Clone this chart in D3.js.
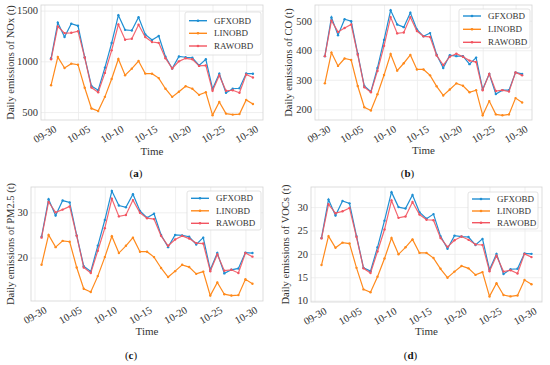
<!DOCTYPE html>
<html>
<head>
<meta charset="utf-8">
<script src="https://cdn.jsdelivr.net/npm/d3@7"></script>
<style>
  body { margin: 0; background: #fff; }
  svg { display: block; font-family: "Liberation Serif", "DejaVu Serif", serif; }
</style>
</head>
<body>
<svg id="chart" width="550" height="365"></svg>
<script>
// data
const days = ['10-01','10-02','10-03','10-04','10-05','10-06','10-07','10-08','10-09','10-10',
  '10-11','10-12','10-13','10-14','10-15','10-16','10-17','10-18','10-19','10-20',
  '10-21','10-22','10-23','10-24','10-25','10-26','10-27','10-28','10-29','10-30','10-31'];
const tickLabels = ['09-30','10-05','10-10','10-15','10-20','10-25','10-30'];
const seriesNames = ['GFXOBD', 'LINOBD', 'RAWOBD'];

const noxGfx = [1030,1380,1240,1370,1350,1040,757,716,938,1180,1454,1310,1304,1435,1265,1210,1250,1045,930,1048,1040,1035,960,1020,728,878,690,730,735,880,878];
const noxLin = [765,1042,934,977,967,740,536,510,650,826,1023,863,928,1003,879,878,835,730,650,700,755,730,670,695,470,600,485,475,480,620,580];
const noxRaw = [1020,1343,1278,1281,1297,1036,742,696,886,1108,1363,1213,1222,1360,1239,1190,1182,1030,930,1000,1030,1020,955,960,710,860,710,715,690,870,840];

const coGfx = [380,511,451,505,498,388,279,260,340,435,535,487,478,527,470,447,458,385,340,383,380,380,353,375,268,320,252,265,265,325,320];
const coLin = [288,392,347,372,367,279,207,196,251,316,387,331,356,384,335,335,315,278,247,267,288,280,258,265,180,228,183,180,183,238,223];
const coRaw = [380,500,462,475,487,385,275,258,330,415,512,457,460,512,465,447,445,382,350,378,388,378,365,360,265,320,262,265,260,325,315];

const pmGfx = [24.6,32.9,29.3,32.6,32.2,24.9,18.1,16.9,22.6,28.3,34.7,31.5,31.1,34.0,30.3,28.8,29.7,25.0,22.3,25.0,24.9,24.6,22.9,24.4,17.3,21.0,16.5,17.3,17.6,21.1,21.0];
const pmLin = [18.4,25.0,22.3,23.7,23.5,17.8,13.1,12.4,15.9,20.1,24.7,21.0,22.6,24.4,21.3,21.3,20.1,17.7,15.7,17.0,18.4,17.9,16.4,16.9,11.6,14.5,11.9,11.6,11.7,15.2,14.2];
const pmRaw = [24.4,32.3,30.0,30.6,31.3,24.8,17.8,16.6,21.5,26.5,33.0,29.1,29.4,32.7,29.9,28.7,28.5,24.8,22.6,24.0,24.8,24.2,23.2,23.1,17.0,20.7,17.1,17.3,16.6,21.0,20.2];

const vocGfx = [23.4,31.6,28.2,31.3,30.8,23.8,17.0,16.3,21.4,27.1,33.2,30.0,29.7,32.6,28.9,27.5,28.5,23.8,21.1,23.9,23.7,23.6,21.9,23.2,16.6,20.0,15.7,16.7,16.8,20.1,20.0];
const vocLin = [17.6,23.8,21.3,22.4,22.2,17.0,12.4,11.8,15.1,19.0,23.4,19.9,21.4,23.1,20.2,20.2,19.1,16.8,14.9,16.2,17.4,16.9,15.5,16.1,10.9,13.7,11.2,10.9,11.1,14.4,13.5];
const vocRaw = [23.3,30.6,28.7,29.1,29.8,23.6,16.9,15.9,20.5,25.2,31.4,27.7,28.0,31.1,28.4,27.3,27.2,23.4,21.5,22.9,23.7,23.0,22.0,21.9,16.3,19.6,16.2,16.5,15.8,20.0,19.3];

const noxTicks = [500, 1000, 1500];
const coTicks = [200, 300, 400, 500];
const pmTicks = [20, 30];
const vocTicks = [10, 15, 20, 25, 30];

const colors = ['#1f8fd3', '#ff8a1c', '#f25561'];
const textColor = '#333';

const parseDay = d3.utcParse('%m-%d');
const dayDates = days.map(parseDay);
const tickDates = tickLabels.map(parseDay);

// panel layout
const panels = [
  { label: 'Daily emissions of NOx (t)', cap: 'a', series: [noxGfx, noxLin, noxRaw], ticks: noxTicks,
    yDomain: [422, 1555], left: 41, right: 263, top: 5, bottom: 120, yLabX: 10, timeY: 151, capY: 173,
    leg: { x: 185, y: 12, w: 76, h: 43, rows: [20.7, 33.3, 46] } },
  { label: 'Daily emissions of CO (t)', cap: 'b', series: [coGfx, coLin, coRaw], ticks: coTicks,
    yDomain: [164, 553], left: 315, right: 532, top: 5, bottom: 120, yLabX: 288, timeY: 150, capY: 173,
    leg: { x: 459, y: 9, w: 71, h: 39, rows: [16, 29.3, 42.3] } },
  { label: 'Daily emissions of PM2.5 (t)', cap: 'c', series: [pmGfx, pmLin, pmRaw], ticks: pmTicks,
    yDomain: [10.4, 35.6], left: 31, right: 263, top: 187, bottom: 301, yLabX: 10, timeY: 331, capY: 355,
    leg: { x: 187, y: 191, w: 74, h: 39, rows: [198.3, 210.8, 223.3] } },
  { label: 'Daily emissions of VOCs (t)', cap: 'd', series: [vocGfx, vocLin, vocRaw], ticks: vocTicks,
    yDomain: [9.7, 34.3], left: 311, right: 542, top: 187, bottom: 302, yLabX: 285, timeY: 331, capY: 355,
    leg: { x: 468, y: 192, w: 70, h: 37, rows: [199, 211, 222.7] } }
];

const svg = d3.select('#chart');
svg.append('rect').attr('width', 550).attr('height', 365).attr('fill', '#fff');

panels.forEach(p => {
  const g = svg.append('g');

  const x = d3.scaleUtc()
    .domain([d3.utcHour.offset(dayDates[0], -36), d3.utcHour.offset(dayDates[dayDates.length - 1], 36)])
    .range([p.left, p.right]);
  const y = d3.scaleLinear()
    .domain(p.yDomain)
    .range([p.bottom, p.top]);

  // grid + y tick labels
  const yAxis = g.append('g')
    .attr('transform', `translate(${p.left},0)`)
    .call(d3.axisLeft(y).tickValues(p.ticks).tickFormat(d3.format('d'))
      .tickSize(-(p.right - p.left)).tickPadding(3));
  yAxis.select('.domain').remove();
  yAxis.selectAll('line').attr('stroke', '#ebebeb').attr('stroke-width', 0.8);
  yAxis.selectAll('text')
    .attr('fill', textColor)
    .style('font-family', '"Liberation Serif", serif')
    .style('font-size', '10.5px');

  const xAxis = g.append('g')
    .attr('transform', `translate(0,${p.bottom})`)
    .call(d3.axisBottom(x).tickValues(tickDates).tickFormat(d3.utcFormat('%m-%d'))
      .tickSize(-(p.bottom - p.top)));
  xAxis.select('.domain').remove();
  xAxis.selectAll('line').attr('stroke', '#ebebeb').attr('stroke-width', 0.8);
  xAxis.selectAll('text')
    .attr('y', 0)
    .attr('dy', '0.35em')
    .attr('transform', 'translate(0,14) rotate(-30)')
    .attr('text-anchor', 'middle')
    .attr('fill', textColor)
    .style('font-family', '"Liberation Serif", serif')
    .style('font-size', '10.5px');

  // frame
  g.append('rect')
    .attr('x', p.left).attr('y', p.top)
    .attr('width', p.right - p.left).attr('height', p.bottom - p.top)
    .attr('fill', 'none').attr('stroke', '#d4d4d4').attr('stroke-width', 0.8);

  // lines
  const line = d3.line()
    .x((d, i) => x(dayDates[i]))
    .y(d => y(d));

  p.series.forEach((s, k) => {
    g.append('path')
      .datum(s)
      .attr('d', line)
      .attr('fill', 'none')
      .attr('stroke', colors[k])
      .attr('stroke-width', 1.2)
      .attr('stroke-opacity', k === 2 ? 0.9 : 1);
    g.append('g').selectAll('circle')
      .data(s)
      .join('circle')
      .attr('cx', (d, i) => x(dayDates[i]))
      .attr('cy', d => y(d))
      .attr('r', 1.2)
      .attr('fill', colors[k]);
  });

  // axis labels
  g.append('text')
    .text('Time')
    .attr('x', (p.left + p.right) / 2)
    .attr('y', p.timeY)
    .attr('text-anchor', 'middle')
    .attr('dominant-baseline', 'central')
    .attr('fill', textColor)
    .style('font-size', '11px');

  g.append('text')
    .text(p.label)
    .attr('transform', `translate(${p.yLabX},${(p.top + p.bottom) / 2}) rotate(-90)`)
    .attr('text-anchor', 'middle')
    .attr('dominant-baseline', 'central')
    .attr('fill', textColor)
    .style('font-size', '10.5px');

  // legend
  const L = p.leg;
  g.append('rect')
    .attr('x', L.x).attr('y', L.y).attr('width', L.w).attr('height', L.h)
    .attr('rx', 2)
    .attr('fill', '#fff').attr('fill-opacity', 0.85)
    .attr('stroke', '#dcdcdc').attr('stroke-width', 0.8);
  seriesNames.forEach((name, k) => {
    const ry = L.rows[k];
    g.append('line')
      .attr('x1', L.x + 4).attr('x2', L.x + 22)
      .attr('y1', ry).attr('y2', ry)
      .attr('stroke', colors[k]).attr('stroke-width', 1.4);
    g.append('circle')
      .attr('cx', L.x + 13).attr('cy', ry).attr('r', 1.3)
      .attr('fill', colors[k]);
    g.append('text')
      .text(name)
      .attr('x', L.x + 29).attr('y', ry)
      .attr('dominant-baseline', 'central')
      .attr('fill', textColor)
      .style('font-size', '9px');
  });

  // caption
  const cap = g.append('text')
    .attr('x', (p.left + p.right) / 2 - 16)
    .attr('y', p.capY)
    .attr('text-anchor', 'middle')
    .attr('dominant-baseline', 'central')
    .attr('fill', '#111')
    .style('font-size', '11px');
  cap.append('tspan').text('(');
  cap.append('tspan').text(p.cap).style('font-weight', 'bold');
  cap.append('tspan').text(')');
});
</script>
</body>
</html>
